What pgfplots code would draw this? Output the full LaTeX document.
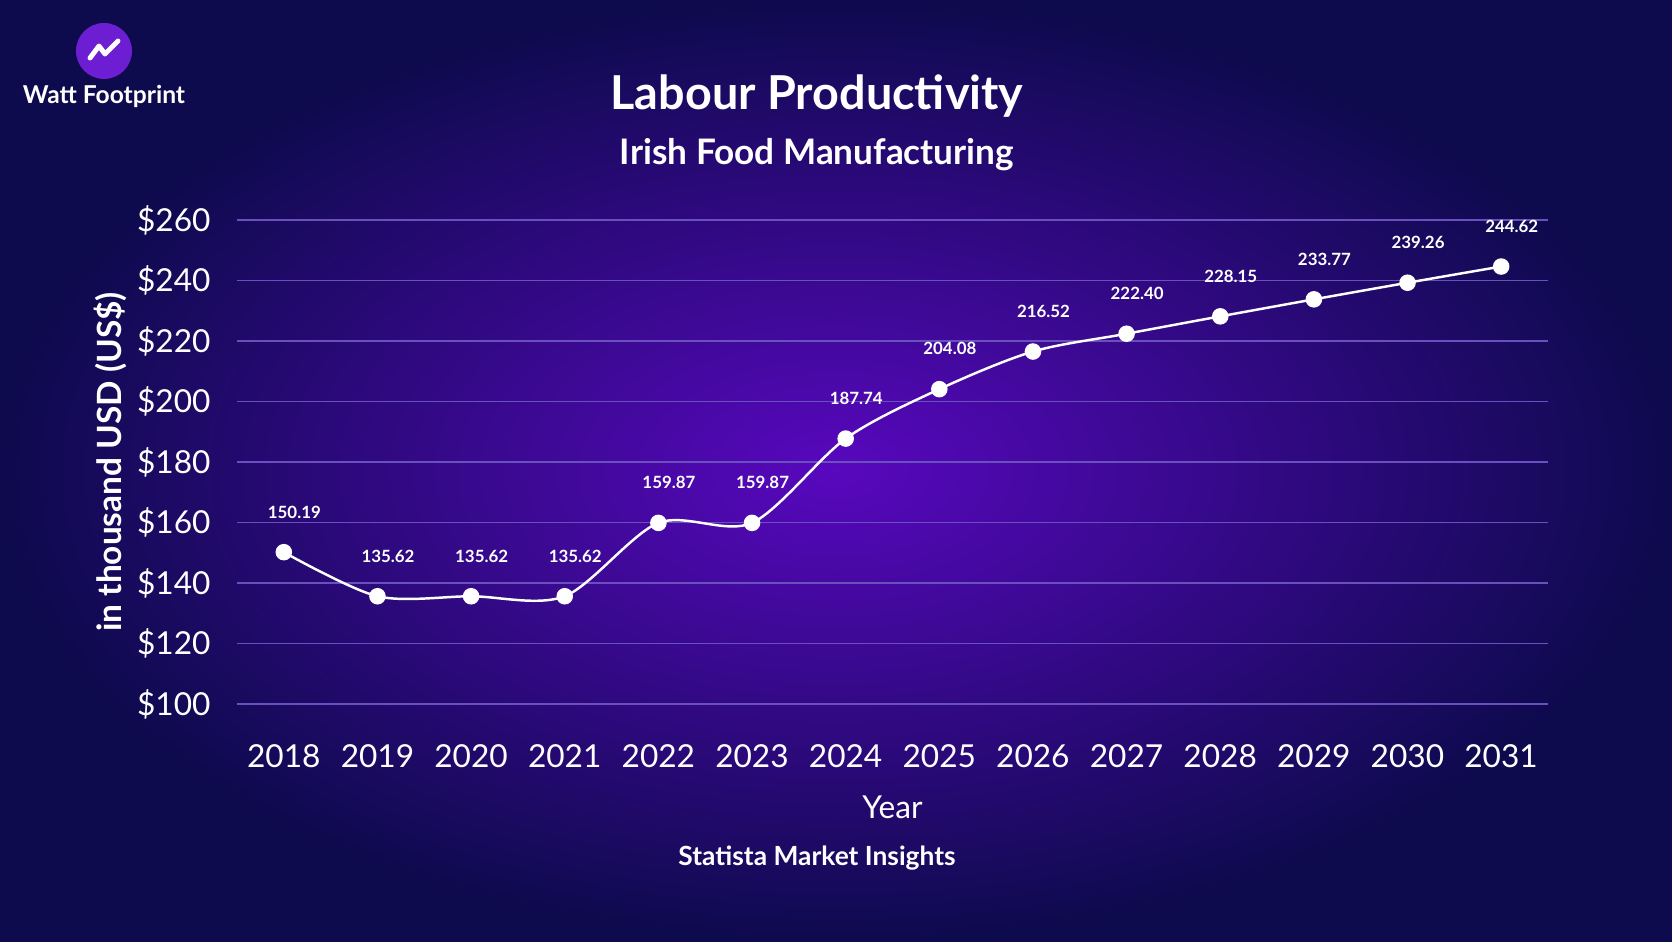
\documentclass[border=0pt]{standalone}
\usepackage{pgfplots}
\pgfplotsset{compat=1.18}
\usepackage{fontspec}
\setmainfont{Lato}
\definecolor{cin}{RGB}{88,8,190}
\definecolor{cout}{RGB}{14,10,78}
\definecolor{logo}{RGB}{110,30,210}
\definecolor{gridc}{RGB}{105,80,190}
\begin{document}
\begin{tikzpicture}
\useasboundingbox (0,0) rectangle (16.72,9.41);
\shade[inner color=cin, outer color=cout] (0,0) rectangle (16.72,9.41);
% logo
\fill[logo] (1.04,8.9) circle (0.28);
\draw[white,line width=1.4pt,line cap=round,line join=round] (0.9,8.83)--(0.99,8.95)--(1.05,8.87)--(1.18,9.0);
\node[white,font=\fontsize{7}{8}\selectfont\bfseries] at (1.04,8.45) {Watt Footprint};
\node[white,font=\fontsize{13.3}{14}\selectfont\bfseries] at (8.17,8.45) {Labour Productivity};
\node[white,font=\fontsize{10}{11}\selectfont\bfseries] at (8.17,7.86) {Irish Food Manufacturing};
\node[white,font=\fontsize{7.5}{8}\selectfont\bfseries] at (8.17,0.83) {Statista Market Insights};
\begin{axis}[at={(2.37cm,2.37cm)},anchor=south west,scale only axis,
 width=13.11cm,height=4.84cm,
 xmin=2017.5,xmax=2031.5,ymin=100,ymax=260,
 xtick={2018,...,2031},ytick={100,120,...,260},
 xticklabel style={/pgf/number format/1000 sep={}},
 /pgf/number format/assume math mode=true,
 yticklabel={\$\pgfmathprintnumber{\tick}},
 ticklabel style={white,font=\fontsize{9}{10}\selectfont},
 xticklabel style={yshift=-8pt},
 yticklabel style={xshift=-4pt},
 axis line style={draw=none},major tick length=0pt,
 ymajorgrids,grid style={gridc,line width=0.4pt},
 xlabel={Year},xlabel style={white,font=\fontsize{9}{10}\selectfont,yshift=-1pt},
 ylabel={in thousand USD (US\$)},ylabel style={white,font=\fontsize{9.5}{10}\selectfont\bfseries,yshift=-4pt},
 nodes near coords,point meta=explicit symbolic,
 every node near coord/.style={white,font=\fontsize{4.8}{5}\selectfont\bfseries,yshift=6pt,xshift=3pt},
 clip=false]
\addplot[white,line width=0.7pt,smooth,tension=0.5,mark=*,mark size=2pt,mark options={fill=white}] table[meta=l]{
x y l
2018 150.19 150.19
2019 135.62 135.62
2020 135.62 135.62
2021 135.62 135.62
2022 159.87 159.87
2023 159.87 159.87
2024 187.74 187.74
2025 204.08 204.08
2026 216.52 216.52
2027 222.40 222.40
2028 228.15 228.15
2029 233.77 233.77
2030 239.26 239.26
2031 244.62 244.62
};
\end{axis}
\end{tikzpicture}
\end{document}
